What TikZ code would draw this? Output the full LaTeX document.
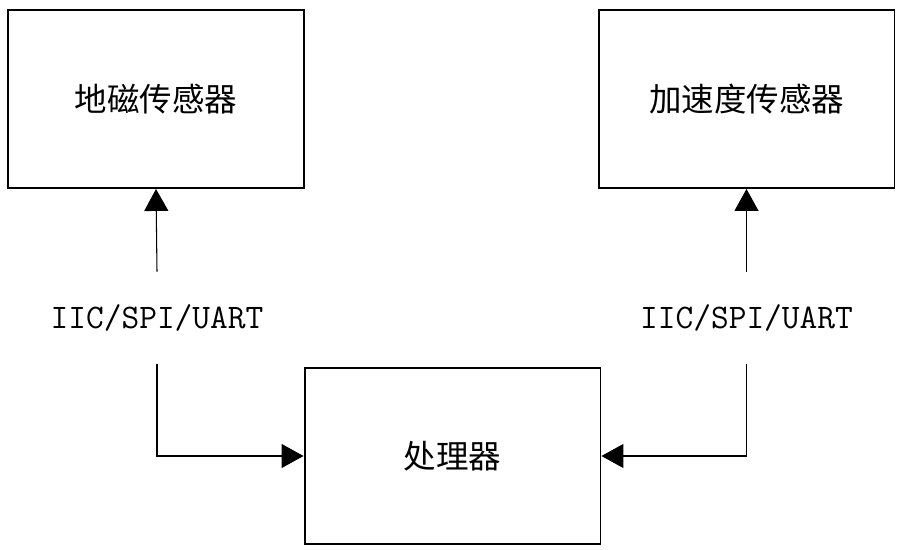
\documentclass[tikz,border=0pt]{standalone}
\usepackage{fontspec}
\newfontfamily\cjk{Noto Sans CJK SC}
\usetikzlibrary{arrows.meta}
\tikzset{
  blk/.style={draw=black,line width=1.1pt,minimum width=5.92cm,minimum height=3.56cm,
    font=\cjk\fontsize{18.5}{20}\selectfont},
  bus/.style={minimum height=1.84cm,inner sep=0pt,font=\ttfamily\fontsize{19.6}{21}\selectfont},
  lnk/.style={line width=0.6pt,-{Triangle[length=0.44cm,width=0.48cm]}}
}

\begin{document}
\begin{tikzpicture}[x=0.02cm,y=-0.02cm]
\useasboundingbox (0,0) rectangle (902,550);

% sensors and processor
\node[blk] (mag) at (156,99) {地磁传感器};
\node[blk] (acc) at (746.5,99) {加速度传感器};
\node[blk,minimum height=3.52cm] (cpu) at (452.5,456) {处理器};

% bus labels
\node[bus] (bus1) at (157,318) {IIC/SPI/UART};
\node[bus] (bus2) at (746.5,318) {IIC/SPI/UART};

\draw[lnk] (bus1.north) -- (mag.south);
\draw[lnk] (bus2.north) -- (acc.south);
\draw[lnk] (bus1.south) |- (cpu.west);
\draw[lnk] (bus2.south) |- (cpu.east);

\end{tikzpicture}
\end{document}
